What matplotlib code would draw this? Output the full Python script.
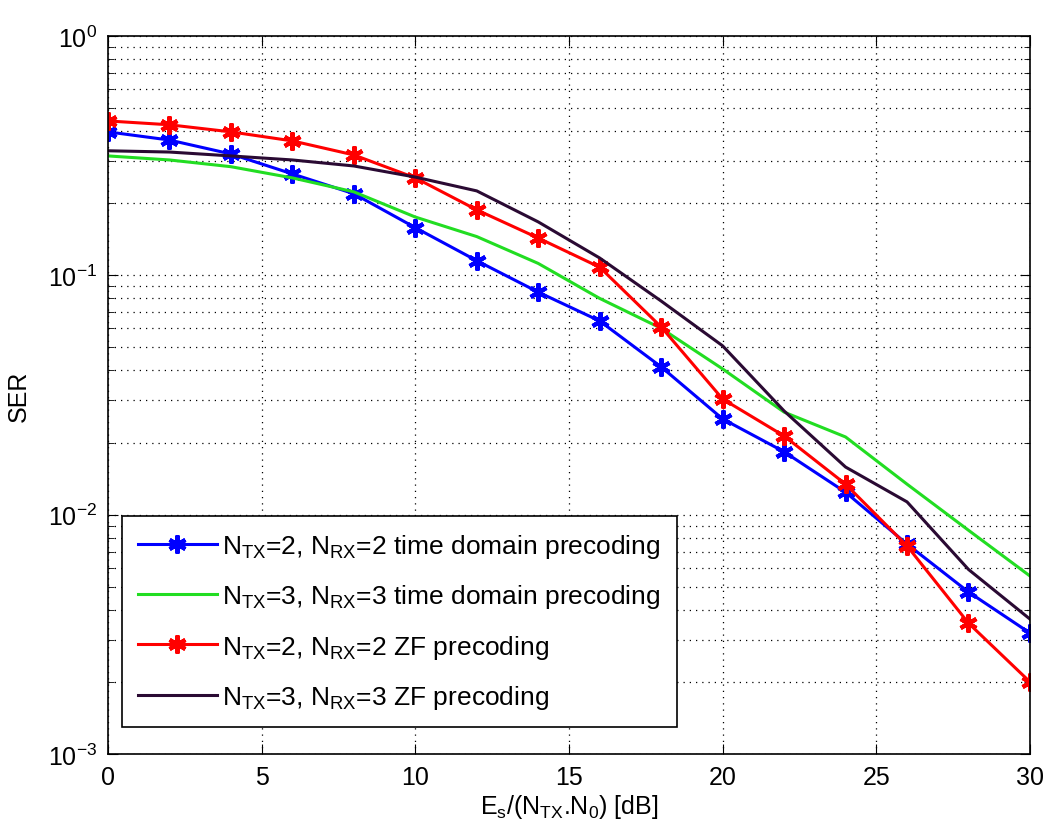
import numpy as np
import matplotlib
matplotlib.use("Agg")
from matplotlib import pyplot as plt

fam = 'Liberation Sans'
plt.rcParams['font.family'] = [fam, 'DejaVu Sans']
plt.rcParams['mathtext.fontset'] = 'custom'
plt.rcParams['mathtext.rm'] = fam
plt.rcParams['mathtext.it'] = fam
plt.rcParams['mathtext.default'] = 'regular'

snr = [0, 2, 4, 6, 8, 10, 12, 14, 16, 18, 20, 22, 24, 26, 28, 30]

ser_td_2x2 = [0.397, 0.367, 0.321, 0.265, 0.219, 0.158, 0.115, 0.085, 0.0644,
              0.0414, 0.0251, 0.0183, 0.0124, 0.00753, 0.00475, 0.0032]
ser_td_3x3 = [0.315, 0.303, 0.284, 0.255, 0.223, 0.175, 0.145, 0.112, 0.080,
              0.0600, 0.0406, 0.0268, 0.0211, 0.0134, 0.0086, 0.00554]
ser_zf_2x2 = [0.441, 0.425, 0.397, 0.364, 0.318, 0.255, 0.1875, 0.143, 0.108,
              0.0608, 0.0304, 0.0213, 0.0134, 0.0074, 0.00352, 0.0020]
ser_zf_3x3 = [0.331, 0.327, 0.315, 0.303, 0.286, 0.257, 0.225, 0.167, 0.118,
              0.078, 0.0507, 0.0271, 0.0158, 0.0113, 0.0059, 0.00366]

labels = [r'N$_{TX}$=2, N$_{RX}$=2 time domain precoding',
          r'N$_{TX}$=3, N$_{RX}$=3 time domain precoding',
          r'N$_{TX}$=2, N$_{RX}$=2 ZF precoding',
          r'N$_{TX}$=3, N$_{RX}$=3 ZF precoding']

fig = plt.figure(figsize=(10.43, 8.37), dpi=100)
ax = fig.add_axes([0.1035, 0.098, 0.884, 0.858])

# matlab style '*' = six-armed asterisk
ast = (6, 2, 0)
ax.semilogy(snr, ser_td_2x2, color='#0000ff', lw=2.2, marker=ast, ms=13, mew=3, label=labels[0])
ax.semilogy(snr, ser_td_3x3, color='#22dd22', lw=2.2, label=labels[1])
ax.semilogy(snr, ser_zf_2x2, color='#ff0000', lw=2.2, marker=ast, ms=13, mew=3, label=labels[2])
ax.semilogy(snr, ser_zf_3x3, color='#2a0a33', lw=2.2, label=labels[3])

ax.set_xlim(0, 30)
ax.set_ylim(1e-3, 1)
ax.set_xticks([0, 5, 10, 15, 20, 25, 30])
ax.grid(True, which='major', axis='both', color='k', ls=(0, (1, 4)), lw=0.9)
ax.grid(True, which='minor', axis='y', color='k', ls=(0, (1, 4)), lw=0.9)
ax.tick_params(which='both', direction='in', top=True, right=True, labelsize=18)
ax.tick_params(which='major', length=7, pad=8)
ax.tick_params(which='minor', length=4)
for s in ax.spines.values():
    s.set_linewidth(1.2)

ax.set_xlabel(r'E$_s$/(N$_{TX}$.N$_0$) [dB]', fontsize=18, labelpad=2)
ax.set_ylabel('SER', fontsize=18, labelpad=12)

leg = ax.legend(loc='lower left', bbox_to_anchor=(0.0152, 0.0376), borderaxespad=0,
                fontsize=19, fancybox=False, framealpha=1, edgecolor='k',
                handlelength=3.0, labelspacing=0.85, handletextpad=0.2,
                borderpad=0.6)
leg.get_frame().set_linewidth(1.2)

fig.savefig('out.png', dpi=100)
